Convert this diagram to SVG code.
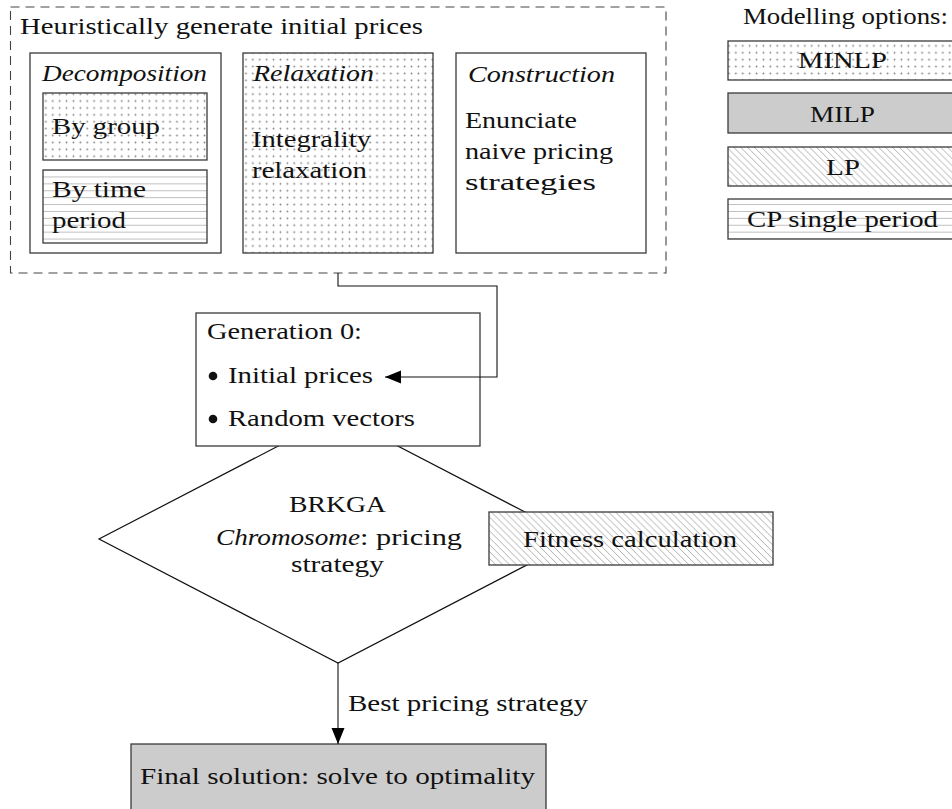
<svg xmlns="http://www.w3.org/2000/svg" width="952" height="809" viewBox="0 0 952 809">
  <style>
    text { font-family: "Liberation Serif", "Times New Roman", serif; font-size: 24px; fill: #111; }
    .it { font-style: italic; }
    .box { stroke: #3a3a3a; stroke-width: 1.3; }
    .white { fill: #ffffff; }
    .grey { fill: #cccccc; }
    .dots { fill: url(#dots); }
    .hlines { fill: url(#hlines); }
    .nwlines { fill: url(#nwlines); }
    .edge { fill: none; stroke: #111; stroke-width: 1.1; }
  </style>
  <defs>
    <pattern id="dots" patternUnits="userSpaceOnUse" width="6.9" height="6.9" x="1" y="1">
      <circle cx="3.45" cy="3.45" r="0.9" fill="#808080"/>
    </pattern>
    <pattern id="hlines" patternUnits="userSpaceOnUse" width="20" height="6.9" x="0" y="1">
      <line x1="0" y1="3.45" x2="20" y2="3.45" stroke="#b8b8b8" stroke-width="0.9"/>
    </pattern>
    <pattern id="nwlines" patternUnits="userSpaceOnUse" width="6.9" height="6.9">
      <line x1="0" y1="0" x2="6.9" y2="6.9" stroke="#a6a6a6" stroke-width="0.9"/>
      <line x1="-6.9" y1="0" x2="0" y2="6.9" stroke="#a6a6a6" stroke-width="0.9"/>
      <line x1="6.9" y1="0" x2="13.8" y2="6.9" stroke="#a6a6a6" stroke-width="0.9"/>
    </pattern>
    <marker id="tip" markerWidth="16" markerHeight="14" refX="16" refY="7" orient="auto" markerUnits="userSpaceOnUse">
      <path d="M0,0.5 L16,7 L0,13.5 Z" fill="#000"/>
    </marker>
  </defs>

  <!-- decision diamond sits underneath the boxes that overlap it -->
  <g id="brkga">
    <polygon points="338,415 577,539 338,663 99,539" fill="#fff" stroke="#111" stroke-width="1.2"/>
    <text x="289" y="512" textLength="97" lengthAdjust="spacingAndGlyphs">BRKGA</text>
    <text x="216" y="545"><tspan class="it" textLength="144" lengthAdjust="spacingAndGlyphs">Chromosome</tspan><tspan x="360" textLength="102" lengthAdjust="spacingAndGlyphs">: pricing</tspan></text>
    <text x="291" y="572" textLength="93" lengthAdjust="spacingAndGlyphs">strategy</text>
  </g>

  <!-- heuristic initial price generation -->
  <g id="heuristics">
    <rect x="10.5" y="7" width="655.5" height="266" fill="none" stroke="#444" stroke-width="1.1" stroke-dasharray="9 6"/>
    <text x="20" y="34" textLength="403" lengthAdjust="spacingAndGlyphs">Heuristically generate initial prices</text>
  </g>

  <g id="decomposition">
    <rect class="box white" x="30" y="53" width="191" height="200"/>
    <text class="it" x="42" y="81" textLength="165" lengthAdjust="spacingAndGlyphs">Decomposition</text>
  </g>
  <g id="by-group">
    <rect class="white" x="43" y="93" width="164" height="67"/>
    <rect class="box dots" x="43" y="93" width="164" height="67"/>
    <text x="52" y="134" textLength="108" lengthAdjust="spacingAndGlyphs">By group</text>
  </g>
  <g id="by-time-period">
    <rect class="white" x="43" y="170" width="164" height="73"/>
    <rect class="box hlines" x="43" y="170" width="164" height="73"/>
    <text x="52" y="197" textLength="94" lengthAdjust="spacingAndGlyphs">By time</text>
    <text x="52" y="228" textLength="74" lengthAdjust="spacingAndGlyphs">period</text>
  </g>

  <g id="relaxation">
    <rect class="white" x="243" y="53" width="190" height="200"/>
    <rect class="box dots" x="243" y="53" width="190" height="200"/>
    <text class="it" x="253" y="81" textLength="121" lengthAdjust="spacingAndGlyphs">Relaxation</text>
    <text x="252" y="147" textLength="119" lengthAdjust="spacingAndGlyphs">Integrality</text>
    <text x="252" y="178" textLength="115" lengthAdjust="spacingAndGlyphs">relaxation</text>
  </g>

  <g id="construction">
    <rect class="box white" x="456" y="53" width="190" height="200"/>
    <text class="it" x="468" y="82" textLength="147" lengthAdjust="spacingAndGlyphs">Construction</text>
    <text x="465" y="128" textLength="112" lengthAdjust="spacingAndGlyphs">Enunciate</text>
    <text x="465" y="159" textLength="148" lengthAdjust="spacingAndGlyphs">naive pricing</text>
    <text x="465" y="190" textLength="131" lengthAdjust="spacingAndGlyphs">strategies</text>
  </g>

  <!-- legend of modelling options -->
  <g id="legend">
    <text x="743" y="24" textLength="205" lengthAdjust="spacingAndGlyphs">Modelling options:</text>
    <g id="opt-minlp">
      <rect class="white" x="728" y="41" width="230" height="39"/>
      <rect class="box dots" x="728" y="41" width="230" height="39"/>
      <text x="798" y="68" textLength="89" lengthAdjust="spacingAndGlyphs">MINLP</text>
    </g>
    <g id="opt-milp">
      <rect class="box grey" x="728" y="93" width="230" height="40"/>
      <text x="810" y="122" textLength="65" lengthAdjust="spacingAndGlyphs">MILP</text>
    </g>
    <g id="opt-lp">
      <rect class="white" x="728" y="147" width="230" height="39"/>
      <rect class="box nwlines" x="728" y="147" width="230" height="39"/>
      <text x="826" y="175" textLength="34" lengthAdjust="spacingAndGlyphs">LP</text>
    </g>
    <g id="opt-cp">
      <rect class="white" x="728" y="199" width="230" height="40"/>
      <rect class="box hlines" x="728" y="199" width="230" height="40"/>
      <text x="747" y="227" textLength="191" lengthAdjust="spacingAndGlyphs">CP single period</text>
    </g>
  </g>

  <g id="generation-0">
    <rect class="box white" x="196" y="313" width="284" height="133"/>
    <text x="207" y="339" textLength="155" lengthAdjust="spacingAndGlyphs">Generation 0:</text>
    <circle cx="213" cy="376" r="4.3" fill="#111"/>
    <text x="228" y="383" textLength="145" lengthAdjust="spacingAndGlyphs">Initial prices</text>
    <circle cx="213" cy="419" r="4.3" fill="#111"/>
    <text x="228" y="426" textLength="187" lengthAdjust="spacingAndGlyphs">Random vectors</text>
  </g>

  <g id="fitness">
    <rect class="white" x="489" y="512" width="284" height="53"/>
    <rect class="box nwlines" x="489" y="512" width="284" height="53"/>
    <text x="523" y="547" textLength="214" lengthAdjust="spacingAndGlyphs">Fitness calculation</text>
  </g>

  <g id="final-solution">
    <rect class="box grey" x="131" y="744" width="415" height="80"/>
    <text x="140" y="784" textLength="395" lengthAdjust="spacingAndGlyphs">Final solution: solve to optimality</text>
  </g>

  <g id="connectors">
    <polyline class="edge" points="338,273 338,286 497,286 497,377 385,377" marker-end="url(#tip)"/>
    <line class="edge" x1="338" y1="663" x2="338" y2="744" marker-end="url(#tip)"/>
    <text x="348" y="711" textLength="240" lengthAdjust="spacingAndGlyphs">Best pricing strategy</text>
  </g>
</svg>
